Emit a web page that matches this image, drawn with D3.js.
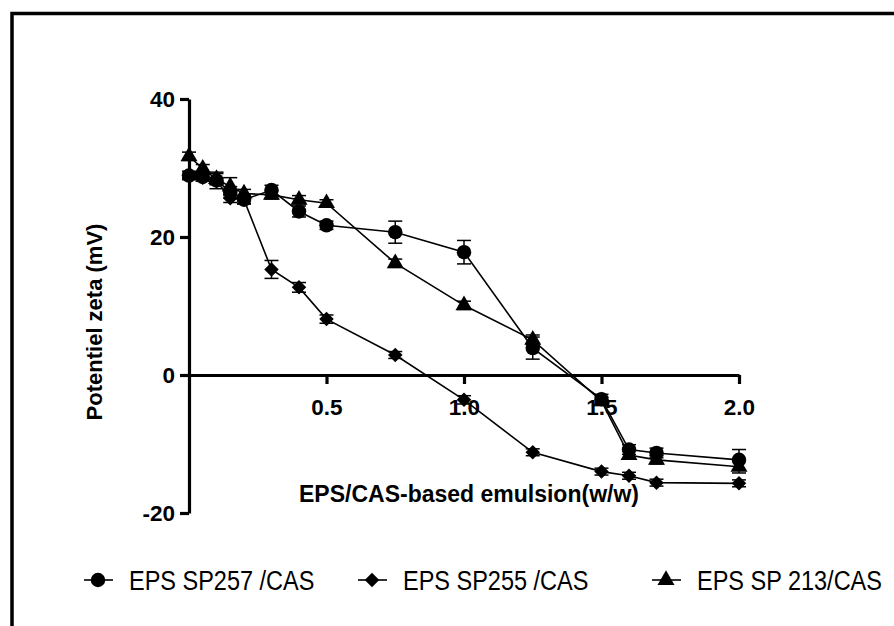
<!DOCTYPE html>
<html>
<head>
<meta charset="utf-8">
<script src="https://cdn.jsdelivr.net/npm/d3@7"></script>
<style>
  html, body { margin: 0; padding: 0; background: #fff; }
  svg { display: block; font-family: "Liberation Sans", Arial, sans-serif; }
</style>
</head>
<body>
<svg id="chart" width="894" height="626"></svg>
<script>
// ratio EPS/CAS (w/w) for each point
const ratioX = [0, 0.05, 0.1, 0.15, 0.2, 0.3, 0.4, 0.5, 0.75, 1.0, 1.25, 1.5, 1.6, 1.7, 2.0];

// zeta potential (mV)
const sp257Y   = [28.9, 28.7, 28.2, 26.5, 25.4, 26.8, 23.7, 21.7, 20.7, 17.8, 3.9, -3.5, -10.8, -11.3, -12.3];
const sp257Err = [0.6, 0.6, 1.2, 0.8, 0.6, 0.7, 0.8, 0.6, 1.6, 1.7, 1.6, 0.7, 0.7, 0.7, 1.5];

const sp255Y   = [29.0, 28.6, 28.1, 25.6, 25.4, 15.3, 12.7, 8.1, 2.9, -3.6, -11.2, -14.0, -14.6, -15.6, -15.7];
const sp255Err = [0.5, 0.5, 0.5, 0.6, 0.6, 1.3, 0.7, 0.6, 0.5, 0.6, 0.5, 0.5, 0.5, 0.5, 0.5];

const sp213Y   = [31.7, 29.9, 28.4, 27.3, 26.3, 26.1, 25.4, 24.9, 16.2, 10.1, 5.1, -3.8, -11.6, -12.3, -13.3];
const sp213Err = [0.6, 0.6, 0.8, 1.3, 0.6, 0.6, 0.6, 0.5, 0.6, 0.6, 0.7, 0.6, 0.6, 0.6, 0.9];

const xTicks = [0.5, 1.0, 1.5, 2.0];
const yTicks = [-20, 0, 20, 40];

const seriesNames = ["EPS SP257 /CAS", "EPS SP255 /CAS", "EPS SP 213/CAS"];

const svg = d3.select("#chart");

// outer frame (right and bottom edges are cropped off in the original)
svg.append("rect")
  .attr("x", 12).attr("y", 13.5)
  .attr("width", 920).attr("height", 700)
  .attr("fill", "none").attr("stroke", "#000").attr("stroke-width", 3.5);

const x = d3.scaleLinear().domain([0, 2]).range([189, 739]);
const y = d3.scaleLinear().domain([-20, 40]).range([513, 99]);

// symbols
const symCircle = d3.symbol().type(d3.symbolCircle).size(165);
const symDiamond = d3.symbol().type(d3.symbolSquare).size(105);
const symTriangle = d3.symbol().type(d3.symbolTriangle).size(125);

const series = [
  { name: seriesNames[0], ys: sp257Y, err: sp257Err, sym: symCircle, rot: 0 },
  { name: seriesNames[1], ys: sp255Y, err: sp255Err, sym: symDiamond, rot: 45 },
  { name: seriesNames[2], ys: sp213Y, err: sp213Err, sym: symTriangle, rot: 0 }
];

// axes (plain hyphen for negatives, like the original)
const yAxis = d3.axisLeft(y).tickValues(yTicks).tickSize(9).tickSizeOuter(0).tickPadding(5)
  .tickFormat(d => String(d));
const gy = svg.append("g").attr("transform", `translate(${x(0)},0)`).call(yAxis);

const xAxis = d3.axisBottom(x).tickValues(xTicks).tickSize(9).tickSizeOuter(0).tickPadding(15)
  .tickFormat(d3.format(".1f"));
const gx = svg.append("g").attr("transform", `translate(0,${y(0)})`).call(xAxis);

[gx, gy].forEach(g => {
  g.select(".domain").attr("stroke-width", 3.2);
  g.selectAll(".tick line").attr("stroke-width", 3.2);
  g.selectAll(".tick text")
    .attr("font-size", 22.5).attr("font-weight", "bold")
    .attr("font-family", "Liberation Sans, Arial, sans-serif").attr("fill", "#000");
});

// lines, error bars, markers
const line = d3.line().x((d, i) => x(ratioX[i])).y(d => y(d));

series.forEach(s => {
  svg.append("path")
    .attr("d", line(s.ys))
    .attr("fill", "none").attr("stroke", "#000").attr("stroke-width", 1.6);
});

series.forEach(s => {
  const g = svg.append("g");
  s.ys.forEach((v, i) => {
    const cx = x(ratioX[i]);
    const top = y(v + s.err[i]);
    const bot = y(v - s.err[i]);
    g.append("line").attr("x1", cx).attr("x2", cx).attr("y1", top).attr("y2", bot)
      .attr("stroke", "#000").attr("stroke-width", 1.5);
    [top, bot].forEach(yy => {
      g.append("line").attr("x1", cx - 7).attr("x2", cx + 7).attr("y1", yy).attr("y2", yy)
        .attr("stroke", "#000").attr("stroke-width", 1.5);
    });
  });
});

series.forEach(s => {
  svg.append("g").selectAll("path")
    .data(s.ys)
    .join("path")
    .attr("d", s.sym())
    .attr("transform", (d, i) => `translate(${x(ratioX[i])},${y(d)}) rotate(${s.rot})`)
    .attr("fill", "#000");
});

// axis titles
svg.append("text")
  .attr("x", 469).attr("y", 502)
  .attr("text-anchor", "middle")
  .attr("font-size", 23).attr("font-weight", "bold")
  .text("EPS/CAS-based emulsion(w/w)");

svg.append("text")
  .attr("transform", "translate(102,322) rotate(-90)")
  .attr("text-anchor", "middle")
  .attr("font-size", 22).attr("font-weight", "bold")
  .text("Potentiel zeta (mV)");

// legend (text is a bit narrow and tall in the original)
const legendX = [98, 372, 666];
series.forEach((s, i) => {
  const cx = legendX[i];
  const cy = 580;
  svg.append("line").attr("x1", cx - 14).attr("x2", cx + 15).attr("y1", cy).attr("y2", cy)
    .attr("stroke", "#000").attr("stroke-width", 1.6);
  svg.append("path").attr("d", s.sym())
    .attr("transform", `translate(${cx},${cy}) rotate(${s.rot})`)
    .attr("fill", "#000");
  svg.append("text")
    .attr("transform", `translate(${cx + 31},${cy + 10}) scale(0.87,1)`)
    .attr("font-size", 27)
    .text(s.name);
});
</script>
</body>
</html>
